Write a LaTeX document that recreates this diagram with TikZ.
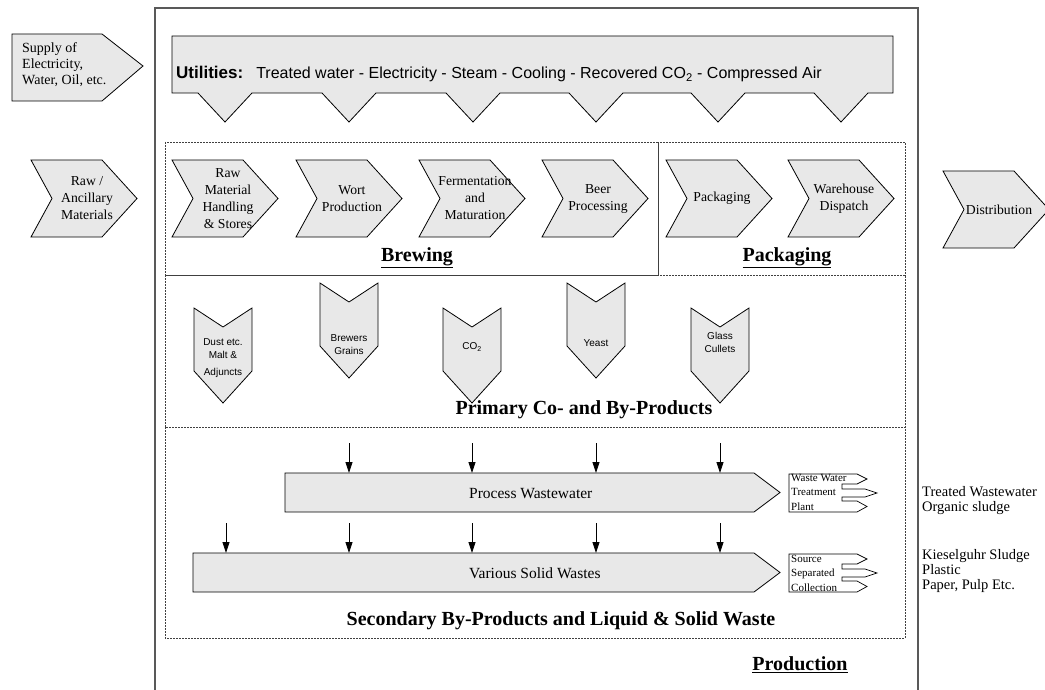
\documentclass[tikz,border=0pt]{standalone}
\usepackage{fontspec}
\setmainfont{Liberation Serif}
\setsansfont{Liberation Sans}
\usetikzlibrary{arrows.meta}
\definecolor{shade}{RGB}{232,232,232}
\tikzset{
  shp/.style={draw=black, fill=shade, line width=0.8bp},
  chevtext/.style={align=center, inner sep=0pt, font=\fontsize{13.7bp}{17bp}\selectfont},
  smalltext/.style={align=center, inner sep=0pt, font=\sffamily\fontsize{10bp}{13bp}\selectfont},
  tinytext/.style={align=left, inner sep=0pt, anchor=west, font=\fontsize{11bp}{14.5bp}\selectfont},
  sidetext/.style={align=left, inner sep=0pt, anchor=west, font=\fontsize{14.5bp}{15bp}\selectfont},
  title/.style={inner sep=0pt, font=\bfseries\fontsize{20bp}{24bp}\selectfont},
  region/.style={draw=black!75, line width=0.7bp, dash pattern=on 2bp off 1bp},
  outer/.style={draw=black!65, line width=1.3bp},
  arr/.style={-{Triangle[length=11bp,width=7bp]}, line width=0.8bp},
  outline/.style={draw=black, line width=0.7bp}
}
\newcommand{\rchev}[4]{%
  \draw[shp] (#1,#2) -- ++(71,0) -- ++(35,38.5) -- ++(-35,38.5) -- ++(-71,0) -- ++(21,-38.5) -- cycle;
  \node[chevtext] (#3) at ({#1+56},{#2+38.5}) {#4};}
\newcommand{\dchev}[2]{%
  \draw[shp] ({#1-29},#2) -- ++(29,19) -- ++(29,-19) -- ++(0,63) -- ++(-29,32) -- ++(-29,-32) -- cycle;}
\newcommand{\outbox}[2]{%
  \begin{scope}[shift={(#1,#2)}]
  \draw[outline] (0,0) -- (68,0) -- (78,5) -- (68,10) -- (53,10) -- (53,15) -- (76,15) -- (88,19) -- (76,23) -- (53,23) -- (53,27) -- (68,27) -- (78,32.5) -- (68,38) -- (0,38) -- cycle;
  \end{scope}}
\begin{document}
\begin{tikzpicture}[x=1bp, y=-1bp]
\useasboundingbox (0,0) rectangle (1045,690);

% outer production frame
\draw[outer] (155,695) -- (155,8) -- (918,8) -- (918,695);

% supply arrow
\draw[shp] (12,34) -- (102,34) -- (143,66) -- (102,101) -- (12,101) -- cycle;
\node[anchor=west, align=left, inner sep=0pt, font=\fontsize{14bp}{16bp}\selectfont] (supply) at (22,65) {Supply of\\Electricity,\\Water, Oil, etc.};

% utilities banner
\draw[shp] (172,36) -- (893,36) -- (893,93)
  -- (868,93) -- (841,122) -- (814,93)
  -- (745,93) -- (718,122) -- (691,93)
  -- (623,93) -- (596,122) -- (569,93)
  -- (500,93) -- (473,122) -- (446,93)
  -- (376,93) -- (349,122) -- (322,93)
  -- (252,93) -- (225,122) -- (198,93)
  -- (172,93) -- cycle;
\node[anchor=west, inner sep=0pt, font=\sffamily\fontsize{16bp}{19bp}\selectfont] (util) at (176,74)
  {{\bfseries\fontsize{17bp}{19bp}\selectfont Utilities:}\hspace{13bp}Treated water - Electricity - Steam - Cooling - Recovered CO\textsubscript{2} - Compressed Air};

% dashed regions
\draw[region] (165,142) rectangle (658,275);
\draw[region] (658,142) rectangle (905,275);
\draw[region] (165,275) rectangle (905,427);
\draw[region] (165,427) rectangle (905,638);

% process chevrons
\rchev{31}{160}{raw}{Raw /\\Ancillary\\Materials}
\rchev{172}{160}{rmh}{Raw\\Material\\Handling\\\& Stores}
\rchev{296}{160}{wort}{Wort\\Production}
\rchev{419}{160}{ferm}{Fermentation\\and\\Maturation}
\rchev{542}{160}{beer}{Beer\\Processing}
\rchev{666}{160}{pack}{Packaging}
\rchev{788}{160}{wh}{Warehouse\\Dispatch}
\rchev{943}{171}{dist}{Distribution}

\node[title] (brewlbl) at (417,258) {\underline{Brewing}};
\node[title] (packlbl) at (787,258) {\underline{Packaging}};

% primary co- and by-products
\dchev{223}{308}
\node[smalltext] (dust) at (223,358) {Dust etc.\\Malt \&\\[4bp]Adjuncts};
\dchev{349}{283}
\node[smalltext] (grains) at (349,344.5) {Brewers\\Grains};
\dchev{472}{308}
\node[smalltext] (co2) at (472,347) {CO\textsubscript{2}};
\dchev{596}{283}
\node[smalltext] (yeast) at (596,343) {Yeast};
\dchev{720}{308}
\node[smalltext] (glass) at (720,342.5) {Glass\\Cullets};
\node[title] (primlbl) at (584,410) {Primary Co- and By-Products};

% secondary
\draw[shp] (285,473) -- (754,473) -- (780,492.5) -- (754,512) -- (285,512) -- cycle;
\coordinate (pwNW) at (285,473);
\node[anchor=west, inner sep=0pt, font=\fontsize{15.5bp}{18bp}\selectfont] (pw) at (469,494) {Process Wastewater};
\draw[shp] (193,553) -- (754,553) -- (780,572.5) -- (754,592) -- (193,592) -- cycle;
\coordinate (swNW) at (193,553);
\node[anchor=west, inner sep=0pt, font=\fontsize{15.5bp}{18bp}\selectfont] (sw) at (469,573) {Various Solid Wastes};

\foreach \i/\x in {1/349,2/472,3/596,4/720}{
  \coordinate (pa\i) at (\x,443);
  \draw[arr] (pa\i) -- (pa\i |- pwNW);
}
\foreach \i/\x in {1/226,2/349,3/472,4/596,5/720}{
  \coordinate (sa\i) at (\x,523);
  \draw[arr] (sa\i) -- (sa\i |- swNW);
}

\outbox{789}{474}
\node[tinytext] (wwtp) at (791,492) {Waste Water\\Treatment\\Plant};
\outbox{789}{554}
\node[tinytext] (ssc) at (791,573) {Source\\Separated\\Collection};

\node[sidetext] (treated) at (922,501) {Treated Wastewater\\Organic sludge};
\node[sidetext] (kiesel) at (922,571) {Kieselguhr Sludge\\Plastic\\Paper, Pulp Etc.};

\node[title] (seclbl) at (561,621) {Secondary By-Products and Liquid \& Solid Waste};
\node[title] (prodlbl) at (800,665) {\underline{Production}};
\end{tikzpicture}
\end{document}
